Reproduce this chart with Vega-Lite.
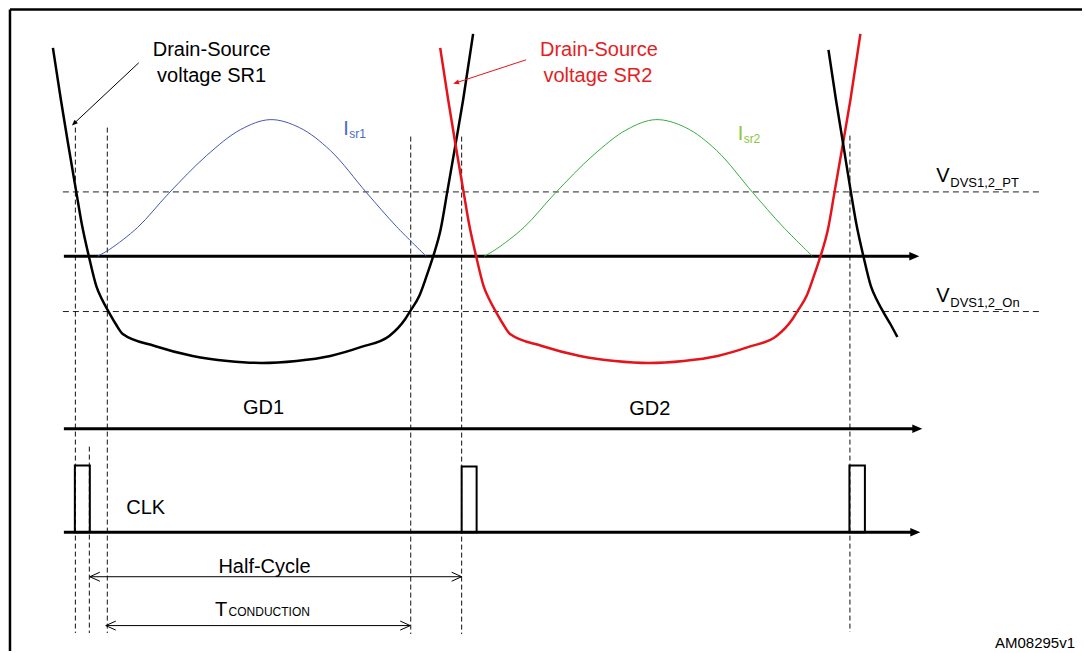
{
  "$schema": "https://vega.github.io/schema/vega-lite/v6.json",
  "width": 1084,
  "height": 653,
  "autosize": {"type": "fit", "contains": "padding"},
  "padding": 0,
  "background": "white",
  "config": {"view": {"stroke": null}, "text": {"font": "Liberation Sans"}},
  "datasets": {
    "frameTop": [{"x": 10, "x2": 1084, "y": 9.5}],
    "frameLeft": [{"x": 10, "y": 9.5, "y2": 653}],
    "levels": [{"x": 63, "x2": 1043, "y": 192.5}, {"x": 63, "x2": 1043, "y": 312.5}],
    "markers": [
      {"x": 75.5, "y": 128, "y2": 635},
      {"x": 89.5, "y": 448, "y2": 635},
      {"x": 107.5, "y": 128, "y2": 635},
      {"x": 411.5, "y": 137, "y2": 636},
      {"x": 462.5, "y": 137, "y2": 636},
      {"x": 851.5, "y": 136, "y2": 634}
    ],
    "axes": [{"x": 64, "x2": 916, "y": 257}, {"x": 64, "x2": 919, "y": 430}, {"x": 64, "x2": 917, "y": 534}],
    "axisTips": [{"x": 921, "y": 257}, {"x": 924, "y": 430}, {"x": 922, "y": 534}],
    "pulses": [
      {"x": 75, "x2": 90, "y": 467, "y2": 534},
      {"x": 462.5, "x2": 477.5, "y": 468, "y2": 534},
      {"x": 851, "x2": 866.5, "y": 467, "y2": 534}
    ],
    "voltages": [
      {"series": "SR1", "x": 53, "y": 48}, {"series": "SR1", "x": 61, "y": 100}, {"series": "SR1", "x": 68, "y": 143},
      {"series": "SR1", "x": 76.5, "y": 193}, {"series": "SR1", "x": 82, "y": 225}, {"series": "SR1", "x": 89, "y": 257},
      {"series": "SR1", "x": 96.5, "y": 287}, {"series": "SR1", "x": 102, "y": 300}, {"series": "SR1", "x": 109, "y": 313},
      {"series": "SR1", "x": 116, "y": 325}, {"series": "SR1", "x": 123, "y": 335}, {"series": "SR1", "x": 155, "y": 347},
      {"series": "SR1", "x": 193, "y": 357}, {"series": "SR1", "x": 228, "y": 362}, {"series": "SR1", "x": 262, "y": 364},
      {"series": "SR1", "x": 297, "y": 362}, {"series": "SR1", "x": 331, "y": 357}, {"series": "SR1", "x": 362, "y": 348},
      {"series": "SR1", "x": 390, "y": 337}, {"series": "SR1", "x": 406, "y": 320}, {"series": "SR1", "x": 411, "y": 312},
      {"series": "SR1", "x": 420, "y": 297}, {"series": "SR1", "x": 427, "y": 278}, {"series": "SR1", "x": 434, "y": 257},
      {"series": "SR1", "x": 441.5, "y": 230}, {"series": "SR1", "x": 448, "y": 193}, {"series": "SR1", "x": 456, "y": 147},
      {"series": "SR1", "x": 464, "y": 100}, {"series": "SR1", "x": 474, "y": 34},
      {"series": "SR2", "x": 441, "y": 48}, {"series": "SR2", "x": 449, "y": 100}, {"series": "SR2", "x": 456, "y": 143},
      {"series": "SR2", "x": 464.5, "y": 193}, {"series": "SR2", "x": 470, "y": 225}, {"series": "SR2", "x": 477, "y": 257},
      {"series": "SR2", "x": 484.5, "y": 287}, {"series": "SR2", "x": 490, "y": 300}, {"series": "SR2", "x": 497, "y": 313},
      {"series": "SR2", "x": 504, "y": 325}, {"series": "SR2", "x": 511, "y": 335}, {"series": "SR2", "x": 543, "y": 347},
      {"series": "SR2", "x": 581, "y": 357}, {"series": "SR2", "x": 616, "y": 362}, {"series": "SR2", "x": 650, "y": 364},
      {"series": "SR2", "x": 685, "y": 362}, {"series": "SR2", "x": 719, "y": 357}, {"series": "SR2", "x": 750, "y": 348},
      {"series": "SR2", "x": 778, "y": 337}, {"series": "SR2", "x": 794, "y": 320}, {"series": "SR2", "x": 799, "y": 312},
      {"series": "SR2", "x": 808, "y": 297}, {"series": "SR2", "x": 815, "y": 278}, {"series": "SR2", "x": 822, "y": 257},
      {"series": "SR2", "x": 829.5, "y": 230}, {"series": "SR2", "x": 836, "y": 193}, {"series": "SR2", "x": 844, "y": 147},
      {"series": "SR2", "x": 852, "y": 100}, {"series": "SR2", "x": 862, "y": 34},
      {"series": "SR1b", "x": 830, "y": 50}, {"series": "SR1b", "x": 837.5, "y": 100}, {"series": "SR1b", "x": 844.5, "y": 143},
      {"series": "SR1b", "x": 852.5, "y": 193}, {"series": "SR1b", "x": 858, "y": 225}, {"series": "SR1b", "x": 865, "y": 257},
      {"series": "SR1b", "x": 872.5, "y": 287}, {"series": "SR1b", "x": 878, "y": 300}, {"series": "SR1b", "x": 885, "y": 313},
      {"series": "SR1b", "x": 892, "y": 325}, {"series": "SR1b", "x": 899, "y": 338}
    ],
    "currents": [
      {"series": "Isr1", "x": 97.6, "y": 257}, {"series": "Isr1", "x": 110, "y": 250}, {"series": "Isr1", "x": 138, "y": 228},
      {"series": "Isr1", "x": 169, "y": 194}, {"series": "Isr1", "x": 207, "y": 156}, {"series": "Isr1", "x": 241, "y": 130},
      {"series": "Isr1", "x": 270.7, "y": 120}, {"series": "Isr1", "x": 300, "y": 128}, {"series": "Isr1", "x": 331, "y": 151},
      {"series": "Isr1", "x": 367, "y": 193}, {"series": "Isr1", "x": 397, "y": 227}, {"series": "Isr1", "x": 427, "y": 257},
      {"series": "Isr2", "x": 485, "y": 257}, {"series": "Isr2", "x": 497, "y": 250}, {"series": "Isr2", "x": 525, "y": 228},
      {"series": "Isr2", "x": 556, "y": 194}, {"series": "Isr2", "x": 594, "y": 156}, {"series": "Isr2", "x": 628, "y": 130},
      {"series": "Isr2", "x": 657, "y": 120}, {"series": "Isr2", "x": 687, "y": 128}, {"series": "Isr2", "x": 718, "y": 151},
      {"series": "Isr2", "x": 754, "y": 193}, {"series": "Isr2", "x": 784, "y": 227}, {"series": "Isr2", "x": 814, "y": 257}
    ],
    "calloutBlack": [{"x": 139, "y": 63, "x2": 74, "y2": 124}],
    "calloutRed": [{"x": 527, "y": 60, "x2": 457, "y2": 83}],
    "headBlack": [{"x": 72, "y": 126}],
    "headRed": [{"x": 454, "y": 84}],
    "spans": [{"x": 90, "x2": 462.5, "y": 578.5}, {"x": 106, "x2": 411, "y": 627.5}],
    "spanLeft": [{"x": 90, "y": 578.5}, {"x": 106, "y": 627.5}],
    "spanRight": [{"x": 462.5, "y": 578.5}, {"x": 411, "y": 627.5}],
    "blackLabels": [
      {"x": 212, "y": 56, "text": "Drain-Source"},
      {"x": 212, "y": 82, "text": "voltage SR1"},
      {"x": 264, "y": 415, "text": "GD1"},
      {"x": 651, "y": 416, "text": "GD2"},
      {"x": 146, "y": 516, "text": "CLK"},
      {"x": 265, "y": 575, "text": "Half-Cycle"}
    ],
    "redLabels": [
      {"x": 600, "y": 56, "text": "Drain-Source"},
      {"x": 599, "y": 82, "text": "voltage SR2"}
    ],
    "bigLeft": [
      {"x": 938, "y": 183, "text": "V"},
      {"x": 938, "y": 303, "text": "V"},
      {"x": 215.5, "y": 618, "text": "T"}
    ],
    "subLeft13": [
      {"x": 952, "y": 187.5, "text": "DVS1,2_PT"},
      {"x": 952, "y": 307.5, "text": "DVS1,2_On"}
    ],
    "subLeft12": [
      {"x": 229, "y": 618, "text": "CONDUCTION"}
    ],
    "blueBig": [{"x": 344, "y": 135, "text": "I"}],
    "blueSub": [{"x": 350, "y": 138, "text": "sr1"}],
    "greenBig": [{"x": 739, "y": 140, "text": "I"}],
    "greenSub": [{"x": 745, "y": 143, "text": "sr2"}],
    "code": [{"x": 1077, "y": 650, "text": "AM08295v1"}]
  },
  "encoding": {
    "x": {"field": "x", "type": "quantitative", "scale": {"domain": [0, 1084], "nice": false, "zero": false}, "axis": null},
    "y": {"field": "y", "type": "quantitative", "scale": {"domain": [0, 653], "reverse": true, "nice": false, "zero": false}, "axis": null}
  },
  "layer": [
    {"data": {"name": "frameTop"}, "mark": {"type": "rule", "color": "black", "strokeWidth": 2.5},
     "encoding": {"x2": {"field": "x2"}}},
    {"data": {"name": "frameLeft"}, "mark": {"type": "rule", "color": "black", "strokeWidth": 2.5},
     "encoding": {"y2": {"field": "y2"}}},
    {"data": {"name": "levels"}, "mark": {"type": "rule", "color": "#222222", "strokeWidth": 1, "strokeDash": [6, 4]},
     "encoding": {"x2": {"field": "x2"}}},
    {"data": {"name": "markers"}, "mark": {"type": "rule", "color": "#111111", "strokeWidth": 1, "strokeDash": [5, 3]},
     "encoding": {"y2": {"field": "y2"}}},
    {"data": {"name": "axes"}, "mark": {"type": "rule", "color": "black", "strokeWidth": 3},
     "encoding": {"x2": {"field": "x2"}}},
    {"data": {"name": "axisTips"}, "mark": {"type": "point", "shape": "M0,0L-2,-0.85L-2,0.85Z", "size": 100, "filled": true, "color": "black", "opacity": 1, "strokeWidth": 0},
     "encoding": {}},
    {"data": {"name": "pulses"}, "mark": {"type": "rect", "filled": false, "stroke": "black", "strokeWidth": 2},
     "encoding": {"x2": {"field": "x2"}, "y2": {"field": "y2"}}},
    {"data": {"name": "currents"}, "mark": {"type": "line", "strokeWidth": 1, "interpolate": "catmull-rom"},
     "encoding": {"color": {"field": "series", "type": "nominal", "legend": null,
       "scale": {"domain": ["SR1", "SR1b", "SR2", "Isr1", "Isr2"], "range": ["#000000", "#000000", "#e5141c", "#4257b2", "#35ad3f"]}}}},
    {"data": {"name": "voltages"}, "mark": {"type": "line", "strokeWidth": 2.5, "interpolate": "monotone"},
     "encoding": {"color": {"field": "series", "type": "nominal", "legend": null,
       "scale": {"domain": ["SR1", "SR1b", "SR2", "Isr1", "Isr2"], "range": ["#000000", "#000000", "#e5141c", "#4257b2", "#35ad3f"]}}}},
    {"data": {"name": "calloutBlack"}, "mark": {"type": "rule", "color": "black", "strokeWidth": 1},
     "encoding": {"x2": {"field": "x2"}, "y2": {"field": "y2"}}},
    {"data": {"name": "calloutRed"}, "mark": {"type": "rule", "color": "#e5141c", "strokeWidth": 1},
     "encoding": {"x2": {"field": "x2"}, "y2": {"field": "y2"}}},
    {"data": {"name": "headBlack"}, "mark": {"type": "point", "shape": "M0,0L-2,-0.8L-2,0.8Z", "size": 36, "angle": 136.8, "filled": true, "color": "black", "opacity": 1, "strokeWidth": 0},
     "encoding": {}},
    {"data": {"name": "headRed"}, "mark": {"type": "point", "shape": "M0,0L-2,-0.8L-2,0.8Z", "size": 36, "angle": 161.8, "filled": true, "color": "#e5141c", "opacity": 1, "strokeWidth": 0},
     "encoding": {}},
    {"data": {"name": "spans"}, "mark": {"type": "rule", "color": "black", "strokeWidth": 1},
     "encoding": {"x2": {"field": "x2"}}},
    {"data": {"name": "spanLeft"}, "mark": {"type": "point", "shape": "M2,-0.9L0,0L2,0.9", "size": 100, "filled": false, "color": "black", "opacity": 1, "strokeWidth": 1},
     "encoding": {}},
    {"data": {"name": "spanRight"}, "mark": {"type": "point", "shape": "M-2,-0.9L0,0L-2,0.9", "size": 100, "filled": false, "color": "black", "opacity": 1, "strokeWidth": 1},
     "encoding": {}},
    {"data": {"name": "blackLabels"}, "mark": {"type": "text", "fontSize": 20, "align": "center", "baseline": "alphabetic", "color": "black"},
     "encoding": {"text": {"field": "text"}}},
    {"data": {"name": "redLabels"}, "mark": {"type": "text", "fontSize": 20, "align": "center", "baseline": "alphabetic", "color": "#e31e24"},
     "encoding": {"text": {"field": "text"}}},
    {"data": {"name": "bigLeft"}, "mark": {"type": "text", "fontSize": 20, "align": "left", "baseline": "alphabetic", "color": "black"},
     "encoding": {"text": {"field": "text"}}},
    {"data": {"name": "subLeft13"}, "mark": {"type": "text", "fontSize": 13, "align": "left", "baseline": "alphabetic", "color": "black"},
     "encoding": {"text": {"field": "text"}}},
    {"data": {"name": "subLeft12"}, "mark": {"type": "text", "fontSize": 12, "align": "left", "baseline": "alphabetic", "color": "black"},
     "encoding": {"text": {"field": "text"}}},
    {"data": {"name": "blueBig"}, "mark": {"type": "text", "fontSize": 20, "align": "left", "baseline": "alphabetic", "color": "#4a6cc0"},
     "encoding": {"text": {"field": "text"}}},
    {"data": {"name": "blueSub"}, "mark": {"type": "text", "fontSize": 12, "align": "left", "baseline": "alphabetic", "color": "#4a6cc0"},
     "encoding": {"text": {"field": "text"}}},
    {"data": {"name": "greenBig"}, "mark": {"type": "text", "fontSize": 20, "align": "left", "baseline": "alphabetic", "color": "#8cc63f"},
     "encoding": {"text": {"field": "text"}}},
    {"data": {"name": "greenSub"}, "mark": {"type": "text", "fontSize": 12, "align": "left", "baseline": "alphabetic", "color": "#8cc63f"},
     "encoding": {"text": {"field": "text"}}},
    {"data": {"name": "code"}, "mark": {"type": "text", "fontSize": 15, "align": "right", "baseline": "alphabetic", "color": "black"},
     "encoding": {"text": {"field": "text"}}}
  ]
}
